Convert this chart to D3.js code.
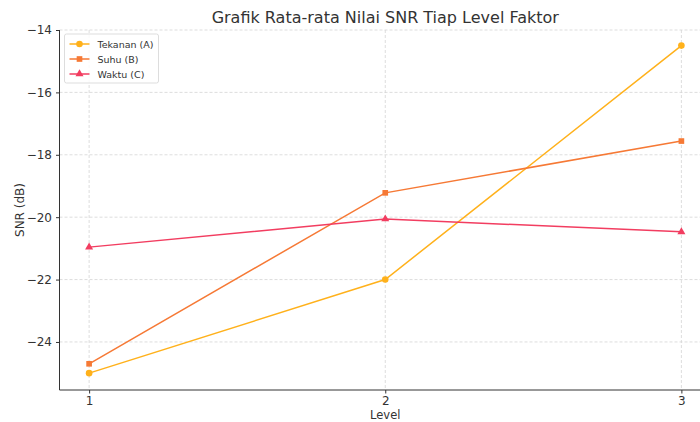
<!DOCTYPE html>
<html>
<head>
<meta charset="utf-8">
<script src="https://cdn.jsdelivr.net/npm/d3@7"></script>
<style>
  body { margin: 0; background: #fff; }
  svg { font-family: "DejaVu Sans", sans-serif; }
</style>
</head>
<body>
<div id="chart"></div>
<script>
// data
const levels = [1, 2, 3];
const tekanan = [-25.0, -22.0, -14.5];
const suhu = [-24.7, -19.22, -17.56];
const waktu = [-20.96, -20.06, -20.47];
const yTicks = [-24, -22, -20, -18, -16, -14];

const series = [
    { name: "Tekanan (A)", values: tekanan, color: "#FFB11B", marker: "circle" },
    { name: "Suhu (B)", values: suhu, color: "#F67935", marker: "square" },
    { name: "Waktu (C)", values: waktu, color: "#F23D60", marker: "triangle" }
];

const W = 700, H = 422;
const margin = { top: 30, right: -11, bottom: 32, left: 59.5 };
const width = W - margin.left - margin.right;
const height = H - margin.top - margin.bottom;

const svg = d3.select("#chart").append("svg").attr("width", W).attr("height", H);
const g = svg.append("g").attr("transform", `translate(${margin.left},${margin.top})`);

const x = d3.scaleLinear().domain([0.9, 3.1]).range([0, width]);
const y = d3.scaleLinear().domain([-25.54, -14]).range([height, 0]);

// grid
g.append("g").selectAll("line").data(yTicks).enter().append("line")
    .attr("x1", 0).attr("x2", width)
    .attr("y1", d => y(d)).attr("y2", d => y(d))
    .attr("stroke", "#d4d4d4").attr("stroke-width", 0.8).attr("stroke-dasharray", "3,2");
g.append("g").selectAll("line").data(levels).enter().append("line")
    .attr("x1", d => x(d)).attr("x2", d => x(d))
    .attr("y1", 0).attr("y2", height)
    .attr("stroke", "#d4d4d4").attr("stroke-width", 0.8).attr("stroke-dasharray", "3,2");

// axes
const yAxis = g.append("g").call(d3.axisLeft(y).tickValues(yTicks).tickSize(3.5).tickPadding(4).tickFormat(d => d3.format("d")(d).replace("-", "\u2212")));
const xAxis = g.append("g").attr("transform", `translate(0,${height})`).call(d3.axisBottom(x).tickValues(levels).tickSize(3.5).tickPadding(3).tickFormat(d3.format("d")));
[yAxis, xAxis].forEach(a => {
    a.select(".domain").attr("stroke", "#333").attr("stroke-width", 1);
    a.selectAll(".tick line").attr("stroke", "#333");
    a.selectAll(".tick text").attr("fill", "#333").style("font-size", "12px").style("font-family", "DejaVu Sans");
});
yAxis.select(".domain").attr("d", `M0,${height}V0`);
xAxis.select(".domain").attr("d", `M0,0H${width}`);

// lines + markers
const line = d3.line().x((d, i) => x(levels[i])).y(d => y(d));
const sym = { circle: d3.symbolCircle, square: d3.symbolSquare, triangle: d3.symbolTriangle };
const symSize = { circle: 34, square: 32, triangle: 28 };

series.forEach(s => {
    g.append("path").datum(s.values).attr("fill", "none").attr("stroke", s.color).attr("stroke-width", 1.5).attr("d", line);
    g.selectAll(null).data(s.values).enter().append("path")
        .attr("transform", (d, i) => `translate(${x(levels[i])},${y(d)})`)
        .attr("d", d3.symbol().type(sym[s.marker]).size(symSize[s.marker]))
        .attr("fill", s.color);
});

// title and labels
svg.append("text").attr("x", margin.left + width / 2).attr("y", 23).attr("text-anchor", "middle")
    .style("font-size", "16px").attr("fill", "#333").text("Grafik Rata-rata Nilai SNR Tiap Level Faktor");
svg.append("text").attr("x", margin.left + width / 2).attr("y", 419).attr("text-anchor", "middle")
    .style("font-size", "11.5px").attr("fill", "#333").text("Level");
svg.append("text").attr("transform", `translate(24,${margin.top + height / 2}) rotate(-90)`).attr("text-anchor", "middle")
    .style("font-size", "12px").attr("fill", "#333").text("SNR (dB)");

// legend
const lg = g.append("g").attr("transform", "translate(5,4)");
lg.append("rect").attr("width", 94).attr("height", 49).attr("rx", 2)
    .attr("fill", "#fff").attr("fill-opacity", 0.85).attr("stroke", "#ddd");
series.forEach((s, i) => {
    const ly = 10 + i * 15;
    lg.append("line").attr("x1", 5).attr("x2", 25).attr("y1", ly).attr("y2", ly).attr("stroke", s.color).attr("stroke-width", 1.5);
    lg.append("path").attr("transform", `translate(15,${ly})`)
        .attr("d", d3.symbol().type(sym[s.marker]).size(symSize[s.marker])).attr("fill", s.color);
    lg.append("text").attr("x", 33).attr("y", ly + 3.5).style("font-size", "9.5px").attr("fill", "#333").text(s.name);
});
</script>
</body>
</html>
